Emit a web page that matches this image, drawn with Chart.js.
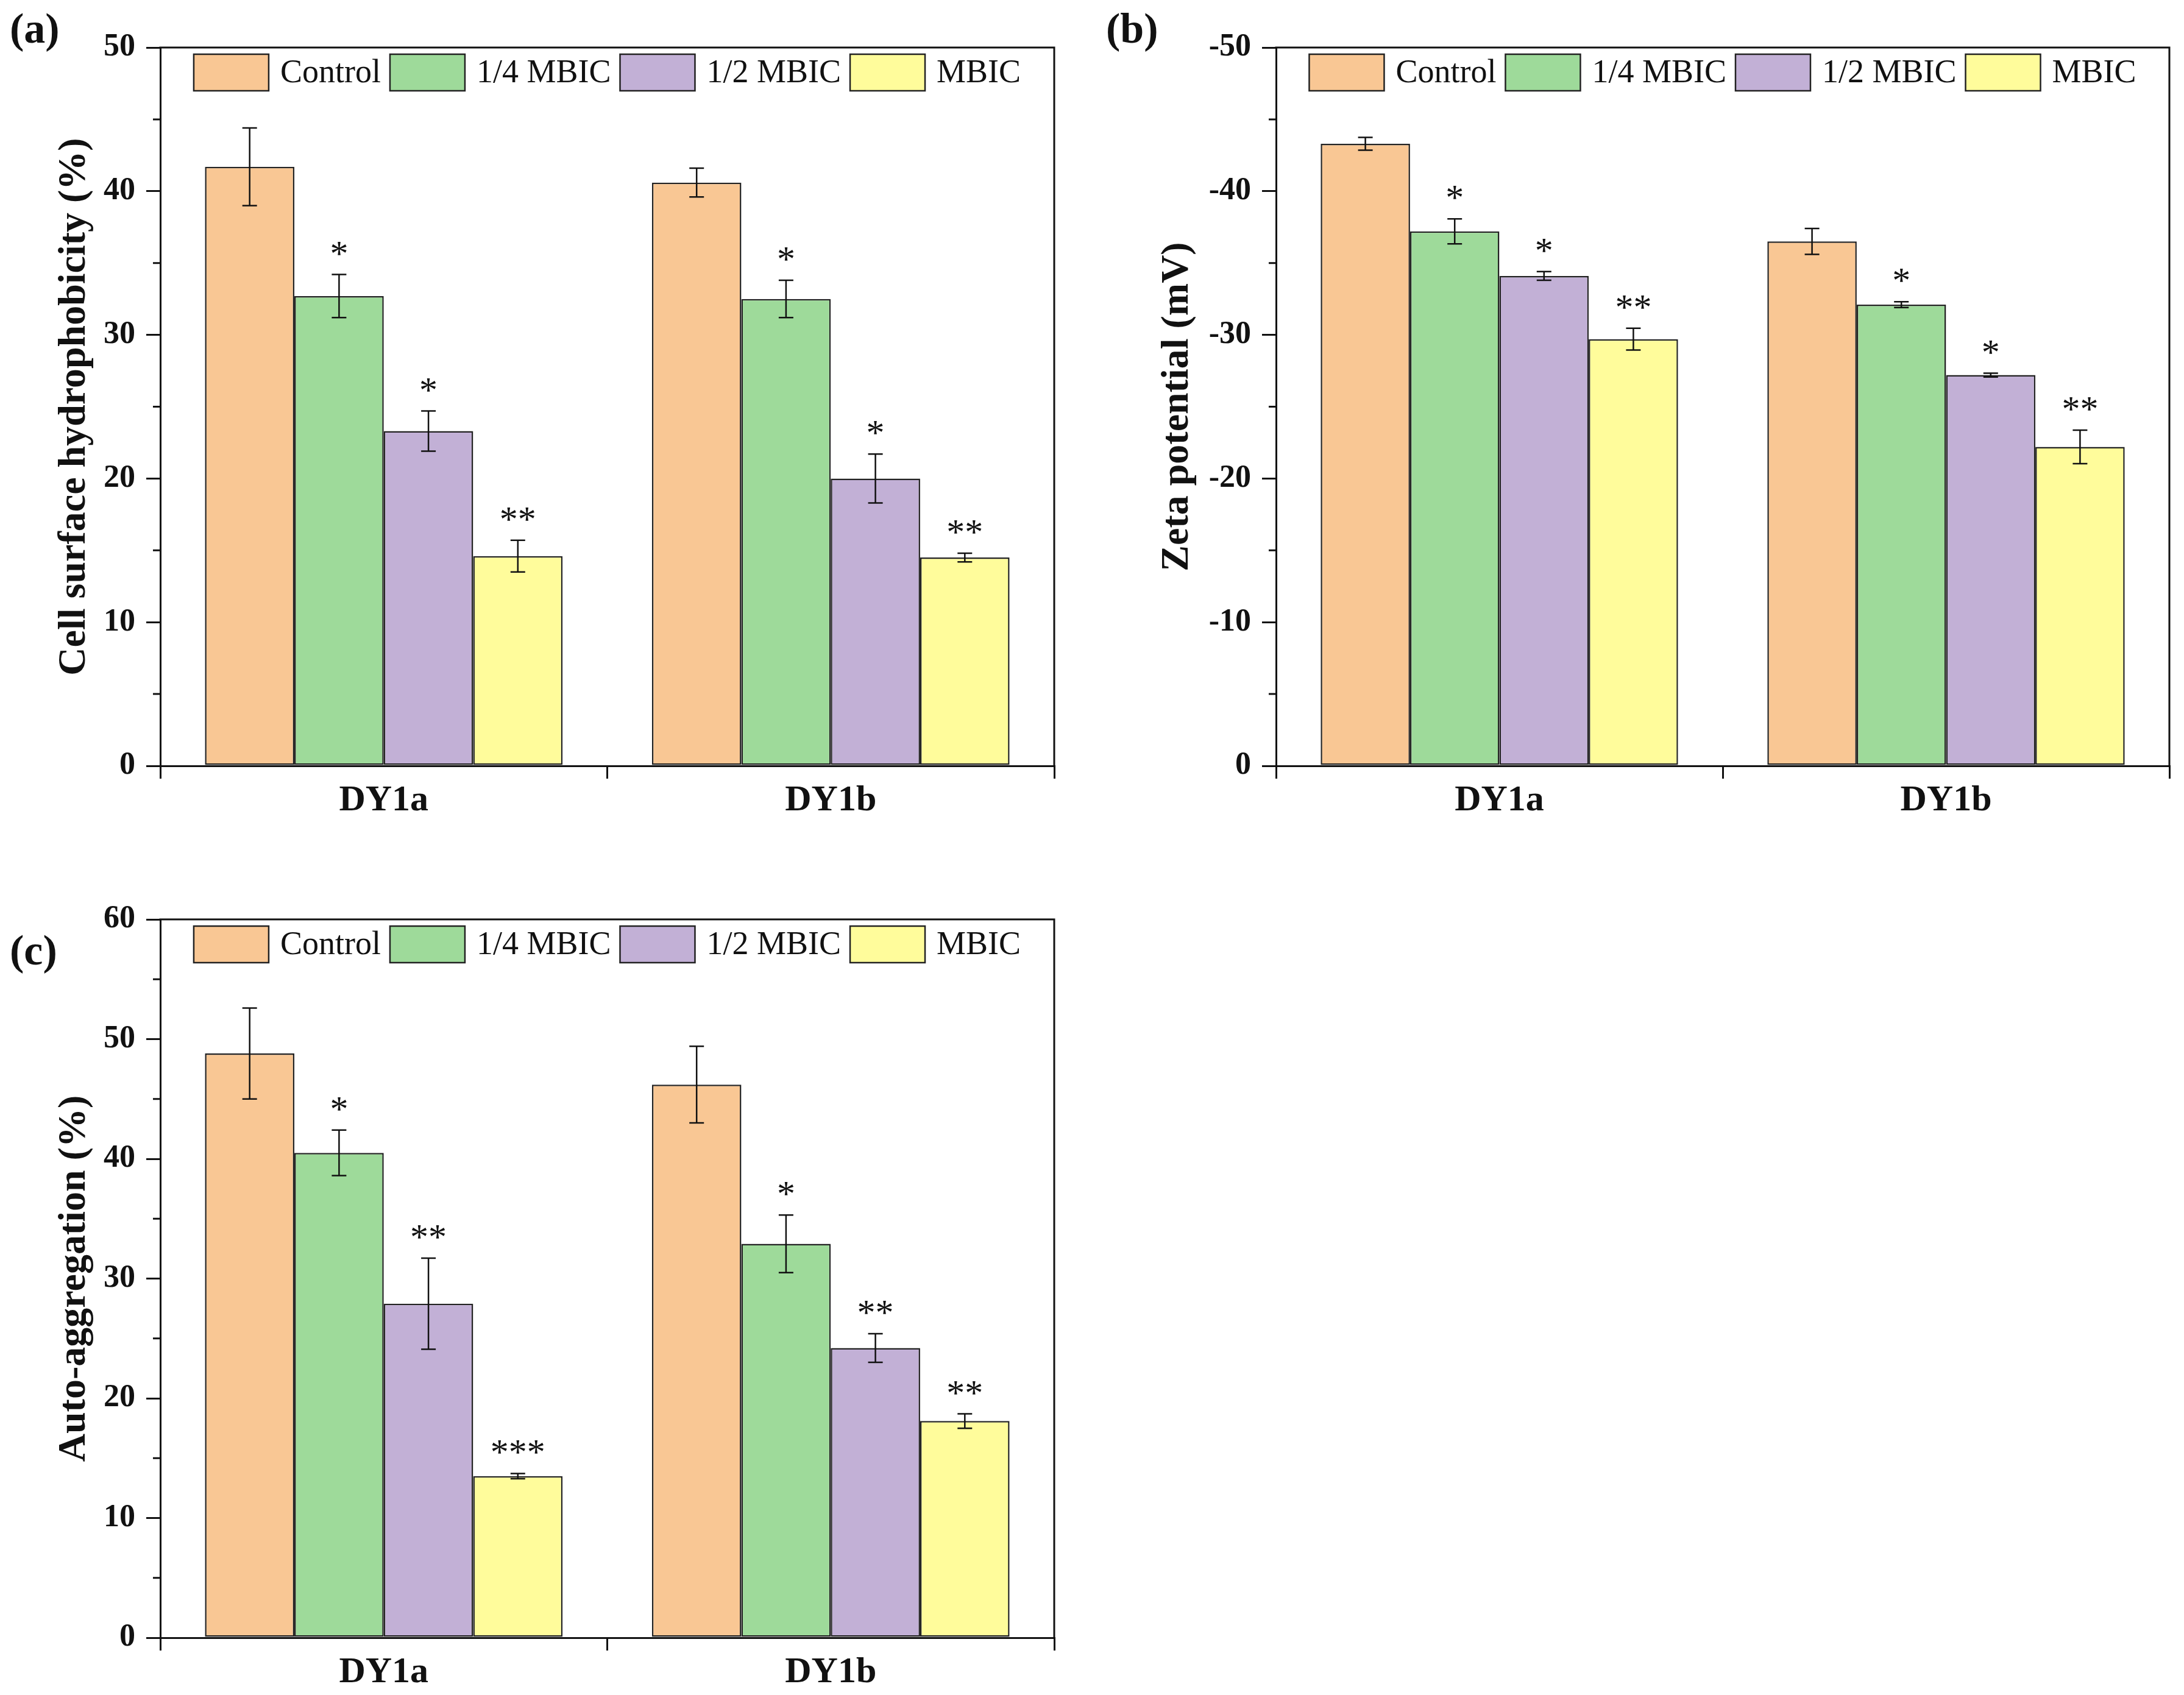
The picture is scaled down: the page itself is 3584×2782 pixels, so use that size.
<!DOCTYPE html>
<html><head><meta charset="utf-8">
<script src="https://cdn.jsdelivr.net/npm/chart.js@4.4.1/dist/chart.umd.min.js"></script>
<style>
html,body{margin:0;padding:0;background:#fff;width:3584px;height:2782px;overflow:hidden}
canvas{position:absolute}
</style>
</head><body>
<canvas id="chartA" width="1792" height="1391" style="left:0;top:0"></canvas>
<canvas id="chartB" width="1792" height="1391" style="left:1792px;top:0"></canvas>
<canvas id="chartC" width="1792" height="1391" style="left:0;top:1391px"></canvas>
<script>
// ---------- data ----------
const categories = ['DY1a', 'DY1b'];
const seriesLabels = ['Control', '1/4 MBIC', '1/2 MBIC', 'MBIC'];
const seriesColors = ['#F9C794', '#9EDA9A', '#C2B0D6', '#FFFC9B'];

// (a) Cell surface hydrophobicity (%)
const hydroControl = [41.7, 40.6];
const hydroQuarter = [32.7, 32.5];
const hydroHalf = [23.3, 20.0];
const hydroMBIC = [14.6, 14.5];
const hydroErrControl = [2.7, 1.0];
const hydroErrQuarter = [1.5, 1.3];
const hydroErrHalf = [1.4, 1.7];
const hydroErrMBIC = [1.1, 0.3];
const hydroStarsControl = ['', ''];
const hydroStarsQuarter = ['*', '*'];
const hydroStarsHalf = ['*', '*'];
const hydroStarsMBIC = ['**', '**'];

// (b) Zeta potential (mV)
const zetaControl = [-43.3, -36.5];
const zetaQuarter = [-37.2, -32.1];
const zetaHalf = [-34.1, -27.2];
const zetaMBIC = [-29.7, -22.2];
const zetaErrControl = [0.45, 0.9];
const zetaErrQuarter = [0.87, 0.2];
const zetaErrHalf = [0.3, 0.13];
const zetaErrMBIC = [0.76, 1.17];
const zetaStarsControl = ['', ''];
const zetaStarsQuarter = ['*', '*'];
const zetaStarsHalf = ['*', '*'];
const zetaStarsMBIC = ['**', '**'];

// (c) Auto-aggregation (%)
const aggControl = [48.8, 46.2];
const aggQuarter = [40.5, 32.9];
const aggHalf = [27.9, 24.2];
const aggMBIC = [13.5, 18.1];
const aggErrControl = [3.8, 3.2];
const aggErrQuarter = [1.9, 2.4];
const aggErrHalf = [3.8, 1.2];
const aggErrMBIC = [0.22, 0.6];
const aggStarsControl = ['', ''];
const aggStarsQuarter = ['*', '*'];
const aggStarsHalf = ['**', '**'];
const aggStarsMBIC = ['***', '**'];

// ---------- plugin: error bars, stars, legend, frame, minor ticks, panel letter ----------
const INK = '#111';
const SERIF = '"Liberation Serif", "Times New Roman", serif';
const extras = {
  id: 'extras',
  afterDatasetsDraw(chart, args, opts) {
    const ctx = chart.ctx, ys = chart.scales.y, a = chart.chartArea;
    ctx.save();
    // error bars + significance stars
    chart.data.datasets.forEach((ds, i) => {
      const meta = chart.getDatasetMeta(i);
      meta.data.forEach((bar, j) => {
        const v = ds.data[j], e = opts.errors[i][j];
        const p1 = ys.getPixelForValue(v + e), p2 = ys.getPixelForValue(v - e);
        const top = Math.min(p1, p2), bot = Math.max(p1, p2);
        ctx.strokeStyle = INK; ctx.lineWidth = 2.5;
        ctx.beginPath();
        ctx.moveTo(bar.x, top); ctx.lineTo(bar.x, bot);
        ctx.moveTo(bar.x - 12, top); ctx.lineTo(bar.x + 12, top);
        ctx.moveTo(bar.x - 12, bot); ctx.lineTo(bar.x + 12, bot);
        ctx.stroke();
        const s = opts.stars[i][j];
        if (s) {
          ctx.font = '60px ' + SERIF;
          ctx.textAlign = 'center'; ctx.textBaseline = 'alphabetic';
          ctx.fillStyle = INK;
          ctx.fillText(s, bar.x, top - 15);
        }
      });
    });
    // legend inside the plot, one row across the top
    const boxW = 123, boxH = 60, gap = 19, spacing = 15;
    ctx.font = '54px ' + SERIF;
    const items = chart.data.datasets.map(ds => ({
      label: ds.label, color: ds.backgroundColor, w: ctx.measureText(ds.label).width
    }));
    let total = 0;
    items.forEach((it, k) => { total += boxW + gap + it.w + (k ? spacing : 0); });
    let x = (a.left + a.right) / 2 - total / 2;
    const y = a.top + 11;
    items.forEach(it => {
      ctx.fillStyle = it.color;
      ctx.fillRect(x, y, boxW, boxH);
      ctx.strokeStyle = '#222'; ctx.lineWidth = 2.5;
      ctx.strokeRect(x, y, boxW, boxH);
      ctx.fillStyle = INK; ctx.textAlign = 'left'; ctx.textBaseline = 'middle';
      ctx.fillText(it.label, x + boxW + gap, y + boxH / 2 + 2);
      x += boxW + gap + it.w + spacing;
    });
    ctx.restore();
  },
  afterDraw(chart, args, opts) {
    const ctx = chart.ctx, a = chart.chartArea, ys = chart.scales.y;
    ctx.save();
    ctx.strokeStyle = INK; ctx.lineWidth = 3;
    ctx.beginPath();
    ctx.moveTo(a.left - 1.5, a.top); ctx.lineTo(a.right, a.top); ctx.lineTo(a.right, a.bottom + 1.5);
    ctx.stroke();
    ctx.beginPath();
    for (let v = ys.min + 5; v < ys.max; v += 10) {
      const p = ys.getPixelForValue(v);
      ctx.moveTo(a.left - 12, p); ctx.lineTo(a.left, p);
    }
    ctx.stroke();
    ctx.font = 'bold 70px ' + SERIF;
    ctx.fillStyle = INK; ctx.textAlign = 'left'; ctx.textBaseline = 'middle';
    ctx.fillText(opts.panel, opts.panelX, opts.panelY);
    ctx.restore();
  }
};

function makeChart(id, cfg) {
  const canvas = document.getElementById(id);
  const W = canvas.width, H = canvas.height;
  const datasets = seriesLabels.map((lab, i) => ({
    label: lab,
    data: cfg.values[i],
    backgroundColor: seriesColors[i],
    borderColor: '#222',
    borderWidth: 2.5,
    borderSkipped: false,
    categoryPercentage: 0.8,
    barPercentage: 1.0
  }));
  return new Chart(canvas, {
    type: 'bar',
    data: { labels: categories, datasets },
    plugins: [extras],
    options: {
      responsive: false,
      devicePixelRatio: 1,
      animation: false,
      layout: { padding: { left: 0, top: cfg.area.top, right: W - cfg.area.right, bottom: 0 } },
      plugins: {
        tooltip: { enabled: false },
        legend: { display: false },
        extras: {
          errors: cfg.errors, stars: cfg.stars,
          panel: cfg.panel, panelX: cfg.panelX, panelY: cfg.panelY
        }
      },
      scales: {
        x: {
          type: 'category',
          offset: true,
          grid: { display: true, offset: true, drawOnChartArea: false, drawTicks: true, tickLength: 21, lineWidth: 3, color: INK },
          border: { display: true, width: 3, color: INK },
          ticks: { font: { family: SERIF, weight: 'bold', size: 60 }, color: INK, padding: 0 },
          afterFit(s) { s.height = H - cfg.area.bottom; }
        },
        y: {
          min: cfg.min, max: cfg.max, reverse: !!cfg.reverse,
          ticks: { stepSize: 10, font: { family: SERIF, weight: 'bold', size: 52 }, color: INK, padding: 18 },
          grid: { display: true, drawOnChartArea: false, drawTicks: true, tickLength: 23, lineWidth: 3, color: INK },
          border: { display: true, width: 3, color: INK },
          title: {
            display: true, text: cfg.title,
            font: { family: SERIF, weight: 'bold', size: 64 },
            color: INK, padding: { top: cfg.titlePad, bottom: 0 }
          },
          afterFit(s) { s.width = cfg.area.left; }
        }
      }
    }
  });
}

makeChart('chartA', {
  values: [hydroControl, hydroQuarter, hydroHalf, hydroMBIC],
  errors: [hydroErrControl, hydroErrQuarter, hydroErrHalf, hydroErrMBIC],
  stars: [hydroStarsControl, hydroStarsQuarter, hydroStarsHalf, hydroStarsMBIC],
  min: 0, max: 50,
  title: 'Cell surface hydrophobicity (%)',
  area: { left: 263, top: 78, right: 1730, bottom: 1257 },
  titlePad: 84,
  panel: '(a)', panelX: 16, panelY: 52
});
makeChart('chartB', {
  values: [zetaControl, zetaQuarter, zetaHalf, zetaMBIC],
  errors: [zetaErrControl, zetaErrQuarter, zetaErrHalf, zetaErrMBIC],
  stars: [zetaStarsControl, zetaStarsQuarter, zetaStarsHalf, zetaStarsMBIC],
  min: -50, max: 0, reverse: true,
  title: 'Zeta potential (mV)',
  area: { left: 302, top: 78, right: 1768, bottom: 1257 },
  titlePad: 102,
  panel: '(b)', panelX: 23, panelY: 52
});
makeChart('chartC', {
  values: [aggControl, aggQuarter, aggHalf, aggMBIC],
  errors: [aggErrControl, aggErrQuarter, aggErrHalf, aggErrMBIC],
  stars: [aggStarsControl, aggStarsQuarter, aggStarsHalf, aggStarsMBIC],
  min: 0, max: 60,
  title: 'Auto-aggregation (%)',
  area: { left: 263, top: 118, right: 1730, bottom: 1297 },
  titlePad: 84,
  panel: '(c)', panelX: 16, panelY: 174
});
</script>
</body></html>
